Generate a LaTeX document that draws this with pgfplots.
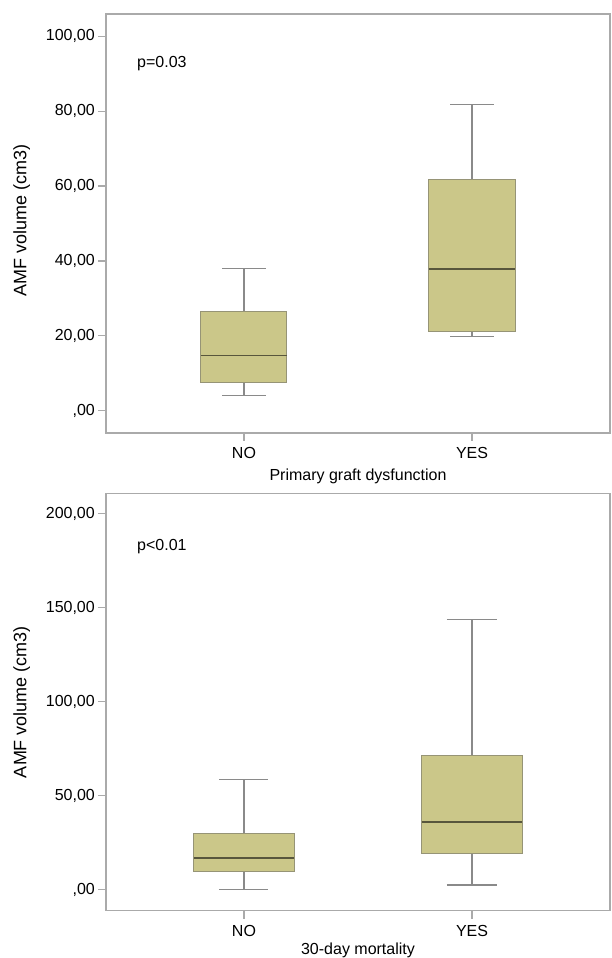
\documentclass[border=0pt]{standalone}
\usepackage{fontspec}
\setmainfont{Liberation Sans}
\usepackage{pgfplots}
\pgfplotsset{compat=1.18}
\usepgfplotslibrary{statistics}
\definecolor{boxfill}{RGB}{203,199,137}
\definecolor{boxedge}{RGB}{150,148,118}
\definecolor{medline}{RGB}{88,86,60}
\definecolor{whisk}{RGB}{138,138,138}
\definecolor{axgray}{RGB}{170,170,170}
\pgfplotsset{amf/.style={
  scale only axis, width=504pt,
  xmin=-0.605, xmax=1.605,
  xtick={0,1}, xticklabels={NO,YES},
  boxplot/draw direction=y,
  axis line style={axgray, line width=1.3pt},
  tick style={axgray, line width=1.1pt},
  tick align=outside, major tick length=8pt,
  ytick pos=left, xtick pos=bottom,
  ticklabel style={font=\fontsize{16}{19}\selectfont, text=black},
  yticklabel style={inner sep=3pt},
  xticklabel style={yshift=-3pt},
  ylabel={AMF volume (cm3)},
  ylabel style={font=\fontsize{18}{20}\selectfont, at={(axis description cs:-0.167,0.5)}, anchor=center},
  label style={text=black},
  xlabel style={font=\fontsize{16}{19}\selectfont, anchor=center},
  boxplot/every box/.style={draw=boxedge, fill=boxfill, line width=1pt},
  boxplot/every median/.style={draw=medline, line width=1.6pt},
  boxplot/every whisker/.style={draw=whisk, line width=1.1pt},
}}
\begin{document}
\begin{tikzpicture}
\useasboundingbox (0pt,0pt) rectangle (611pt,958pt);
% Panel 1
\begin{axis}[amf, at={(106pt,525pt)}, anchor=south west, height=419pt,
  ymin=-5.9, ymax=105.9,
  ytick={0,20,40,60,80,100},
  yticklabels={{,00},{20,00},{40,00},{60,00},{80,00},{100,00}},
  xlabel={Primary graft dysfunction},
  xlabel style={at={(axis description cs:0.5,-0.1026)}},
  ylabel style={at={(axis description cs:-0.167,0.508)}},
]
\addplot[draw=whisk, line width=1.1pt, boxplot prepared={draw position=0,
  lower whisker=4.0, lower quartile=7.7, median=14.8,
  upper quartile=26.4, upper whisker=38.1,
  box extend=0.377, whisker extend=0.19}] coordinates {};
\addplot[draw=whisk, line width=1.1pt, boxplot prepared={draw position=1,
  lower whisker=19.8, lower quartile=21.1, median=37.9,
  upper quartile=61.8, upper whisker=81.7,
  box extend=0.38, whisker extend=0.19}] coordinates {};
\node[anchor=west, font=\fontsize{16}{19}\selectfont, inner sep=0pt] at (axis cs:-0.469,92.8) {p=0.03};
\end{axis}
% Panel 2
\begin{axis}[amf, at={(106pt,47.3pt)}, anchor=south west, height=417.4pt,
  ymin=-11.2, ymax=210.9,
  ytick={0,50,100,150,200},
  yticklabels={{,00},{50,00},{100,00},{150,00},{200,00}},
  xlabel={30-day mortality},
  xlabel style={at={(axis description cs:0.5,-0.094)}},
]
\addplot[draw=whisk, line width=1.1pt, boxplot prepared={draw position=0,
  lower whisker=0.2, lower quartile=9.4, median=16.7,
  upper quartile=29.8, upper whisker=58.8,
  box extend=0.439, whisker extend=0.215}] coordinates {};
\addplot[draw=whisk, line width=1.1pt, boxplot prepared={draw position=1,
  lower whisker=2.5, lower quartile=19.2, median=36.0,
  upper quartile=71.5, upper whisker=143.6,
  box extend=0.439, whisker extend=0.22}] coordinates {};
\node[anchor=west, font=\fontsize{16}{19}\selectfont, inner sep=0pt] at (axis cs:-0.469,182.3) {p<0.01};
\end{axis}
\end{tikzpicture}
\end{document}
